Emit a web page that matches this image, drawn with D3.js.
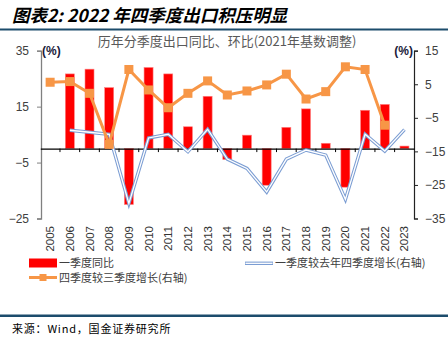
<!DOCTYPE html>
<html>
<head>
<meta charset="utf-8">
<script src="https://cdn.jsdelivr.net/npm/d3@7"></script>
<style>
  body { margin: 0; background: #fff; }
  svg { display: block; }
</style>
</head>
<body>
<svg width="448" height="348"></svg>
<script>
// 年份
const years = ["2005","2006","2007","2008","2009","2010","2011","2012","2013","2014",
               "2015","2016","2017","2018","2019","2020","2021","2022","2023"];
// 一季度同比 (左轴)
const q1Yoy = [null, 26.7, 28.4, 21.8, -20.0, 29.0, 26.7, 7.8, 18.7, -3.9,
               4.8, -13.1, 7.6, 14.2, 1.9, -13.8, 13.7, 15.8, 0.9];
// 一季度较去年四季度增长 (右轴)
const q1VsPrevQ4 = [null, -8.7, -9.3, -9.9, -30.5, -11.0, -9.9, -15.1, -8.4, -17.3,
                    -20.1, -27.1, -17.3, -14.6, -16.1, -29.3, -9.9, -14.9, -8.5];
// 四季度较三季度增长 (右轴)
const q4VsQ3 = [5.6, 5.8, 2.3, -12.9, 9.4, 3.3, -2.0, 2.3, 6.0, 1.8,
                3.0, 4.8, 8.0, 0.6, 2.8, 10.2, 9.4, -7.2, null];
const leftTicks = [35, 15, -5, -25];
const rightTicks = [15, 5, -5, -15, -25, -35];

const svg = d3.select("svg");
const font = "'Liberation Sans', Arial, sans-serif";
const cjk = "'Noto Sans CJK SC', sans-serif";

// 标题
svg.append("text")
    .attr("x", 12)
    .attr("y", 22)
    .attr("font-family", cjk)
    .attr("font-size", 17.5)
    .attr("font-weight", "bold")
    .attr("font-style", "italic")
    .attr("fill", "#000")
    .text("图表2: 2022 年四季度出口积压明显");

svg.append("rect").attr("x", 0).attr("y", 28.5).attr("width", 448).attr("height", 2).attr("fill", "#1c4c6c");
svg.append("rect").attr("x", 0).attr("y", 314.5).attr("width", 448).attr("height", 2.5).attr("fill", "#1c4c6c");

svg.append("text")
    .attr("x", 227)
    .attr("y", 46)
    .attr("text-anchor", "middle")
    .attr("font-family", cjk)
    .attr("font-size", 13)
    .attr("fill", "#595959")
    .text("历年分季度出口同比、环比(2021年基数调整)");

const x = d3.scaleBand().domain(years).range([40.3, 414.3]);
const yL = d3.scaleLinear().domain([-25, 35]).range([218.5, 50.7]);
const yR = d3.scaleLinear().domain([-35, 15]).range([218.5, 50.7]);
const cx = d => x(d) + x.bandwidth() / 2;

// 左轴
const axisL = svg.append("g")
    .attr("transform", "translate(41,0)")
    .call(d3.axisLeft(yL).tickValues(leftTicks).tickSize(4).tickPadding(8).tickFormat(d3.format("d")));
axisL.select(".domain").attr("stroke", "#808080").attr("stroke-width", 1.3);
axisL.selectAll(".tick line").attr("stroke", "#808080");
axisL.selectAll("text").attr("font-family", font).attr("font-size", 12).attr("fill", "#404040");

// 右轴
const axisR = svg.append("g")
    .attr("transform", "translate(414,0)")
    .call(d3.axisRight(yR).tickValues(rightTicks).tickSize(4).tickPadding(7).tickFormat(d3.format("d")));
axisR.select(".domain").attr("stroke", "#222").attr("stroke-width", 1.2);
axisR.selectAll(".tick line").attr("stroke", "#222");
axisR.selectAll("text").attr("font-family", font).attr("font-size", 12).attr("fill", "#404040");

svg.append("text").attr("x", 42).attr("y", 55).attr("font-family", font).attr("font-size", 12)
    .attr("font-weight", "bold").attr("fill", "#1a1a3a").text("(%)");
svg.append("text").attr("x", 413).attr("y", 55).attr("text-anchor", "end").attr("font-family", font)
    .attr("font-size", 12).attr("font-weight", "bold").attr("fill", "#1a1a3a").text("(%)");

// 柱形: 一季度同比
const bw = 9;
svg.append("g")
  .selectAll("rect")
  .data(years.map((y, i) => ({ y, v: q1Yoy[i] })).filter(d => d.v != null))
  .join("rect")
    .attr("x", d => cx(d.y) - bw / 2)
    .attr("width", bw)
    .attr("y", d => yL(Math.max(0, d.v)))
    .attr("height", d => Math.abs(yL(d.v) - yL(0)))
    .attr("fill", "#ff0000")
    .attr("stroke", "#ff8080")
    .attr("stroke-width", 0.6);

// 类别轴 (零线)
const axisX = svg.append("g")
    .attr("transform", `translate(0,${yL(0)})`)
    .call(d3.axisBottom(x).tickSize(0).tickFormat(""));
axisX.select(".domain").attr("stroke", "#000").attr("stroke-width", 1.2);
svg.append("g")
  .selectAll("line")
  .data(years.slice(1))
  .join("line")
    .attr("x1", d => x(d)).attr("x2", d => x(d))
    .attr("y1", yL(0)).attr("y2", yL(0) + 3.5)
    .attr("stroke", "#000").attr("stroke-width", 1);

// 年份标签
svg.append("g")
  .selectAll("text")
  .data(years)
  .join("text")
    .attr("transform", d => `translate(${cx(d) + 4},226) rotate(-90)`)
    .attr("text-anchor", "end")
    .attr("font-family", font)
    .attr("font-size", 11.5)
    .attr("fill", "#333")
    .text(d => d);

// 双线: 一季度较去年四季度增长
const blueLine = d3.line()
    .defined(d => d.v != null)
    .x(d => cx(d.y))
    .y(d => yR(d.v));
const blueData = years.map((y, i) => ({ y, v: q1VsPrevQ4[i] }));
svg.append("path").datum(blueData).attr("d", blueLine)
    .attr("fill", "none").attr("stroke", "#7b9dd3").attr("stroke-width", 3.4).attr("stroke-linejoin", "miter");
svg.append("path").datum(blueData).attr("d", blueLine)
    .attr("fill", "none").attr("stroke", "#fff").attr("stroke-width", 1.3).attr("stroke-linejoin", "miter");

// 折线: 四季度较三季度增长
const orangeData = years.map((y, i) => ({ y, v: q4VsQ3[i] })).filter(d => d.v != null);
svg.append("path").datum(orangeData)
    .attr("d", d3.line().x(d => cx(d.y)).y(d => yR(d.v)))
    .attr("fill", "none").attr("stroke", "#f79646").attr("stroke-width", 3);
svg.append("g")
  .selectAll("rect")
  .data(orangeData)
  .join("rect")
    .attr("x", d => cx(d.y) - 4.5)
    .attr("y", d => yR(d.v) - 4.5)
    .attr("width", 9).attr("height", 9)
    .attr("fill", "#f79646");

// 图例
const legend = svg.append("g").attr("font-family", cjk).attr("font-size", 11).attr("fill", "#404040");
legend.append("rect").attr("x", 29).attr("y", 258.5).attr("width", 28).attr("height", 9).attr("fill", "#ff0000");
legend.append("text").attr("x", 59).attr("y", 267).text("一季度同比");
legend.append("line").attr("x1", 29).attr("x2", 57).attr("y1", 277.5).attr("y2", 277.5)
    .attr("stroke", "#f79646").attr("stroke-width", 3);
legend.append("rect").attr("x", 39.5).attr("y", 274).attr("width", 7).attr("height", 7).attr("fill", "#f79646");
legend.append("text").attr("x", 59).attr("y", 282).text("四季度较三季度增长(右轴)");
legend.append("line").attr("x1", 245).attr("x2", 273).attr("y1", 263.3).attr("y2", 263.3)
    .attr("stroke", "#7b9dd3").attr("stroke-width", 3.4);
legend.append("line").attr("x1", 245.5).attr("x2", 272.5).attr("y1", 263.3).attr("y2", 263.3)
    .attr("stroke", "#fff").attr("stroke-width", 1.3);
legend.append("text").attr("x", 275).attr("y", 267).text("一季度较去年四季度增长(右轴)");

// 资料来源
svg.append("text")
    .attr("x", 12)
    .attr("y", 333)
    .attr("font-family", cjk)
    .attr("font-size", 11)
    .attr("letter-spacing", 0.8)
    .attr("fill", "#000")
    .text("来源：Wind，国金证券研究所");
</script>
</body>
</html>
